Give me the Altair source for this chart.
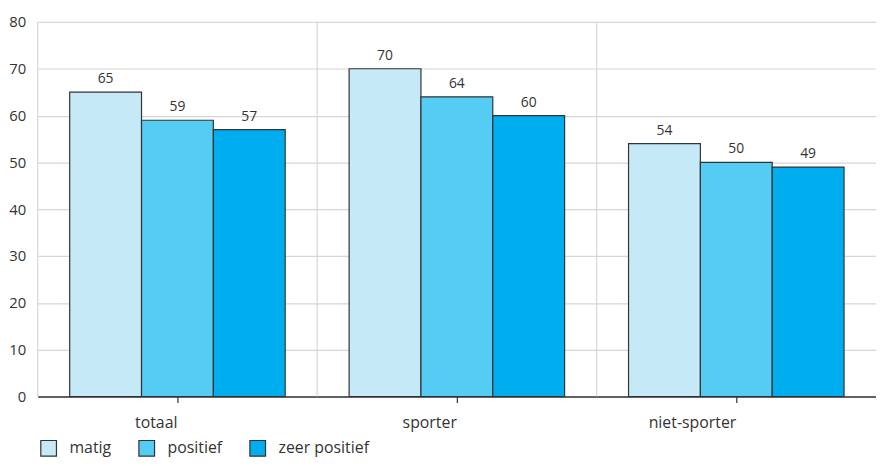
import altair as alt
import pandas as pd

categories = ["totaal", "sporter", "niet-sporter"]
series = ["matig", "positief", "zeer positief"]
matig = [65, 70, 54]
positief = [59, 64, 50]
zeer_positief = [57, 60, 49]
colors = ["#c6e9f8", "#55ccf4", "#00aeef"]
y_ticks = [0, 10, 20, 30, 40, 50, 60, 70, 80]

rows = []
for i, c in enumerate(categories):
    for s, vals in zip(series, [matig, positief, zeer_positief]):
        rows.append({"cat": c, "serie": s, "value": vals[i]})
df = pd.DataFrame(rows)
df_cat = pd.DataFrame({"cat": categories})

FONT = "Open Sans"

x_enc = alt.X("cat:N", sort=categories,
              scale=alt.Scale(paddingInner=0, paddingOuter=0),
              axis=alt.Axis(title=None, labelAngle=0, labelFontSize=16, labelColor="#333333",
                            labelFont=FONT, domainColor="#333333", domainWidth=1.5,
                            tickColor="#333333", tickSize=6, tickWidth=1.2, labelPadding=20,
                            grid=False))
y_enc = alt.Y("value:Q", scale=alt.Scale(domain=[0, 80], nice=False),
              axis=alt.Axis(title=None, values=y_ticks, labelOverlap=False,
                            grid=True, gridColor="#d6d6d6", gridWidth=1.2, ticks=False,
                            domain=False, labelFontSize=15, labelColor="#333333",
                            labelFont=FONT, labelPadding=12))

rules = alt.Chart(df_cat).mark_rule(color="#d6d6d6", strokeWidth=1.2).encode(
    x=alt.X("cat:N", sort=categories, bandPosition=0)
)

xoff = alt.XOffset("serie:N", sort=series,
                   scale=alt.Scale(paddingInner=0, paddingOuter=0.445))

bars = alt.Chart(df).mark_bar(stroke="#333333", strokeWidth=1.2).encode(
    x=x_enc,
    xOffset=xoff,
    y=y_enc,
    color=alt.Color("serie:N", sort=series,
                    scale=alt.Scale(domain=series, range=colors),
                    legend=alt.Legend(title=None, orient="none", direction="horizontal",
                                      legendX=2, legendY=421, symbolType="square",
                                      symbolSize=250, symbolStrokeColor="#333333",
                                      symbolStrokeWidth=1.2, symbolOpacity=1,
                                      labelFontSize=16, labelColor="#333333", labelFont=FONT,
                                      labelOffset=12, columnPadding=24)),
)

labels = alt.Chart(df).mark_text(dy=-6, fontSize=14, color="#333333", font=FONT,
                                 baseline="bottom").encode(
    x=x_enc,
    xOffset=xoff,
    y=y_enc,
    text=alt.Text("value:Q"),
)

chart = alt.layer(rules, bars, labels).properties(
    width=846, height=378,
    padding={"left": 30, "top": 12, "right": 0, "bottom": 60},
    autosize=alt.AutoSizeParams(type="none"),
).configure_view(stroke=None)

chart.save("out.html", embed_options={"renderer": "svg", "actions": False})
